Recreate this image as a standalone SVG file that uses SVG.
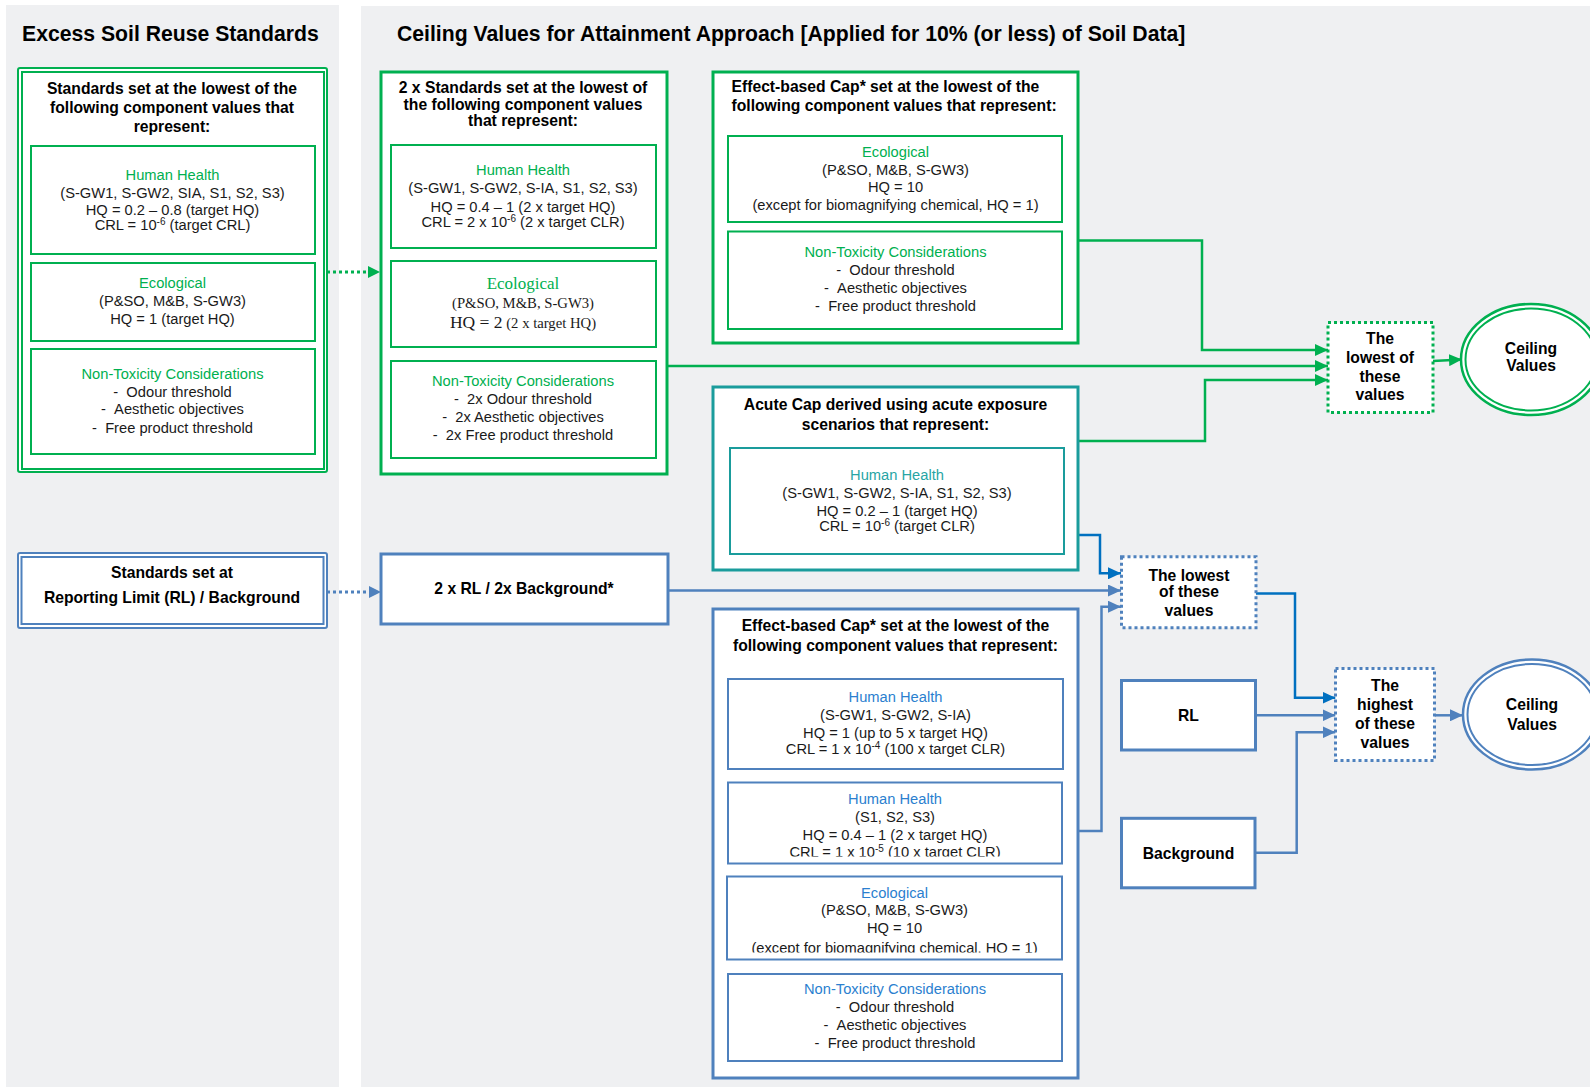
<svg xmlns="http://www.w3.org/2000/svg" width="1590" height="1087" viewBox="0 0 1590 1087">
<style>
.panel{fill:#eff0f2}
text{font-family:"Liberation Sans",Arial,sans-serif;font-size:14.7px;fill:#1a1a1a;text-anchor:middle}
.b{font-weight:bold;font-size:15.7px;fill:#000}
.title{font-weight:bold;font-size:21.2px;text-anchor:start;fill:#000}
.st{text-anchor:start}
.g{fill:#00b050}
.bl{fill:#2b7fcf}
.tl{fill:#27a5a5}
.serif{font-family:"Liberation Serif","Times New Roman",serif}
.big{font-size:17px}
.gbox{fill:#fff;stroke:#00b050;stroke-width:3}
.gsub{fill:#fff;stroke:#00b050;stroke-width:2}
.gthin{fill:#fff;stroke:#00b050;stroke-width:2}
.bbox{fill:#fff;stroke:#4f81bd;stroke-width:3}
.bsub{fill:#fff;stroke:#4f81bd;stroke-width:2}
.tbox{fill:#fff;stroke:#1a9c9c;stroke-width:3}
.tsub{fill:#fff;stroke:#1a9c9c;stroke-width:2}
.gdot{fill:#fff;stroke:#00b050;stroke-width:3;stroke-dasharray:3 3}
.bdot{fill:#fff;stroke:#4f81bd;stroke-width:3;stroke-dasharray:3 3}
.cg{fill:none;stroke:#00b050;stroke-width:2.5}
.cb{fill:none;stroke:#4f81bd;stroke-width:2.5}
.cd{fill:none;stroke:#0070c0;stroke-width:2.5}
.dotg{fill:none;stroke:#00b050;stroke-width:3;stroke-dasharray:3 3}
.dotb{fill:none;stroke:#4f81bd;stroke-width:3;stroke-dasharray:3 3}
</style>
<defs>
<marker id="ag" markerUnits="userSpaceOnUse" markerWidth="14" markerHeight="12" refX="13" refY="6" orient="auto"><path d="M0,0 L13,6 L0,12 z" fill="#00b050"/></marker>
<marker id="ab" markerUnits="userSpaceOnUse" markerWidth="14" markerHeight="12" refX="13" refY="6" orient="auto"><path d="M0,0 L13,6 L0,12 z" fill="#4f81bd"/></marker>
<marker id="ad" markerUnits="userSpaceOnUse" markerWidth="14" markerHeight="12" refX="13" refY="6" orient="auto"><path d="M0,0 L13,6 L0,12 z" fill="#0070c0"/></marker>
<clipPath id="clipHH2"><rect x="728" y="782" width="334" height="74.5"/></clipPath>
<clipPath id="clipEco5"><rect x="727" y="876" width="335" height="76.5"/></clipPath>
</defs>

<g id="panels">
<rect class="panel" x="6" y="5" width="333" height="1082"/>
<rect class="panel" x="361" y="6" width="1229" height="1081"/>
<text class="title" x="22" y="41">Excess Soil Reuse Standards</text>
<text class="title" x="397" y="41">Ceiling Values for Attainment Approach [Applied for 10% (or less) of Soil Data]</text>
</g>

<g id="connectors">
<path class="dotg" d="M327,272 H368"/>
<path d="M368,266 L380,272 L368,278 z" fill="#00b050"/>
<path class="dotb" d="M327,592 H369"/>
<path d="M369,586 L381,592 L369,598 z" fill="#4f81bd"/>
<path class="cg" d="M1078,240.5 H1202 V350 H1328" marker-end="url(#ag)"/>
<path class="cg" d="M667,366 H1328" marker-end="url(#ag)"/>
<path class="cg" d="M1078,441 H1205 V380 H1328" marker-end="url(#ag)"/>
<path class="cg" d="M1433,361 L1462,359.5" marker-end="url(#ag)"/>
<path class="cd" d="M1078,535 H1100 V573.3 H1121" marker-end="url(#ad)"/>
<path class="cb" d="M668,590.5 H1121" marker-end="url(#ab)"/>
<path class="cb" d="M1078,831 H1101.5 V606.7 H1121" marker-end="url(#ab)"/>
<path class="cd" d="M1256,593.5 H1295 V697.7 H1335.5" marker-end="url(#ad)"/>
<path class="cb" d="M1255.5,715.3 H1335.5" marker-end="url(#ab)"/>
<path class="cb" d="M1255,852.7 H1296.7 V732.3 H1335.5" marker-end="url(#ab)"/>
<path class="cb" d="M1434.5,715.3 H1463" marker-end="url(#ab)"/>
</g>

<g id="excess-soil-standards">
<rect class="gthin" x="18" y="68" width="309" height="404" rx="2"/>
<rect class="gthin" x="22" y="72" width="302" height="397"/>
<text class="b" x="172" y="94">Standards set at the lowest of the</text>
<text class="b" x="172" y="113">following component values that</text>
<text class="b" x="172" y="132">represent:</text>
<rect class="gsub" x="31" y="146" width="284" height="108"/>
<text class="g" x="172.5" y="180">Human Health</text>
<text x="172.5" y="198">(S-GW1, S-GW2, SIA, S1, S2, S3)</text>
<text x="172.5" y="215">HQ = 0.2 – 0.8 (target HQ)</text>
<text x="172.5" y="230">CRL = 10<tspan dy="-5" font-size="10">-6</tspan><tspan dy="5"> (target CRL)</tspan></text>
<rect class="gsub" x="31" y="263" width="284" height="78"/>
<text class="g" x="172.5" y="288">Ecological</text>
<text x="172.5" y="306">(P&amp;SO, M&amp;B, S-GW3)</text>
<text x="172.5" y="324">HQ = 1 (target HQ)</text>
<rect class="gsub" x="31" y="349" width="284" height="105"/>
<text class="g" x="172.5" y="379">Non-Toxicity Considerations</text>
<text x="172.5" y="397">-&#160;&#160;Odour threshold</text>
<text x="172.5" y="414">-&#160;&#160;Aesthetic objectives</text>
<text x="172.5" y="433">-&#160;&#160;Free product threshold</text>
</g>

<g id="rl-standards">
<rect class="bsub" x="18" y="553" width="309" height="75" rx="2"/>
<rect class="bsub" x="21.5" y="557" width="302" height="67"/>
<text class="b" x="172" y="578">Standards set at</text>
<text class="b" x="172" y="603">Reporting Limit (RL) / Background</text>
</g>

<g id="two-x-standards">
<rect class="gbox" x="381" y="72" width="286" height="402"/>
<text class="b" x="523" y="93">2 x Standards set at the lowest of</text>
<text class="b" x="523" y="109.5">the following component values</text>
<text class="b" x="523" y="126">that represent:</text>
<rect class="gsub" x="391" y="145" width="265" height="103"/>
<text class="g" x="523" y="175">Human Health</text>
<text x="523" y="193">(S-GW1, S-GW2, S-IA, S1, S2, S3)</text>
<text x="523" y="211.5">HQ = 0.4 – 1 (2 x target HQ)</text>
<text x="523" y="226.5">CRL = 2 x 10<tspan dy="-5" font-size="10">-6</tspan><tspan dy="5"> (2 x target CLR)</tspan></text>
<rect class="gsub" x="391" y="261" width="265" height="86"/>
<text class="g serif big" x="523" y="289">Ecological</text>
<text class="serif" x="523" y="308">(P&amp;SO, M&amp;B, S-GW3)</text>
<text class="serif" x="523" y="327.5"><tspan font-size="17.5">HQ = 2</tspan> (2 x target HQ)</text>
<rect class="gsub" x="391" y="361" width="265" height="97"/>
<text class="g" x="523" y="385.5">Non-Toxicity Considerations</text>
<text x="523" y="403.5">-&#160;&#160;2x Odour threshold</text>
<text x="523" y="421.5">-&#160;&#160;2x Aesthetic objectives</text>
<text x="523" y="440">-&#160;&#160;2x Free product threshold</text>
</g>

<g id="effect-cap-green">
<rect class="gbox" x="713" y="72" width="365" height="271"/>
<text class="b st" x="731.5" y="92">Effect-based Cap* set at the lowest of the</text>
<text class="b st" x="731.5" y="110.5">following component values that represent:</text>
<rect class="gsub" x="728" y="136" width="334" height="86"/>
<text class="g" x="895.5" y="156.5">Ecological</text>
<text x="895.5" y="174.5">(P&amp;SO, M&amp;B, S-GW3)</text>
<text x="895.5" y="191.5">HQ = 10</text>
<text x="895.5" y="210">(except for biomagnifying chemical, HQ = 1)</text>
<rect class="gsub" x="728" y="231.5" width="334" height="97.5"/>
<text class="g" x="895.5" y="256.5">Non-Toxicity Considerations</text>
<text x="895.5" y="274.5">-&#160;&#160;Odour threshold</text>
<text x="895.5" y="292.5">-&#160;&#160;Aesthetic objectives</text>
<text x="895.5" y="310.5">-&#160;&#160;Free product threshold</text>
</g>

<g id="acute-cap">
<rect class="tbox" x="713" y="387" width="365" height="183"/>
<text class="b" x="895.5" y="409.5">Acute Cap derived using acute exposure</text>
<text class="b" x="895.5" y="429.5">scenarios that represent:</text>
<rect class="tsub" x="730" y="448" width="334" height="106"/>
<text class="tl" x="897" y="480">Human Health</text>
<text x="897" y="498">(S-GW1, S-GW2, S-IA, S1, S2, S3)</text>
<text x="897" y="516">HQ = 0.2 – 1 (target HQ)</text>
<text x="897" y="530.5">CRL = 10<tspan dy="-5" font-size="10">-6</tspan><tspan dy="5"> (target CLR)</tspan></text>
</g>

<g id="two-x-rl">
<rect class="bbox" x="381" y="554" width="287" height="70"/>
<text class="b" x="524" y="594">2 x RL / 2x Background*</text>
</g>

<g id="effect-cap-blue">
<rect class="bbox" x="713" y="609" width="365" height="469"/>
<text class="b" x="895.5" y="631">Effect-based Cap* set at the lowest of the</text>
<text class="b" x="895.5" y="651">following component values that represent:</text>
<rect class="bsub" x="728" y="679" width="335" height="90"/>
<text class="bl" x="895.5" y="702">Human Health</text>
<text x="895.5" y="720">(S-GW1, S-GW2, S-IA)</text>
<text x="895.5" y="738">HQ = 1 (up to 5 x target HQ)</text>
<text x="895.5" y="754">CRL = 1 x 10<tspan dy="-5" font-size="10">-4</tspan><tspan dy="5"> (100 x target CLR)</tspan></text>
<rect class="bsub" x="728" y="782.5" width="334" height="81"/>
<text class="bl" x="895" y="803.5">Human Health</text>
<text x="895" y="821.5">(S1, S2, S3)</text>
<text x="895" y="839.5">HQ = 0.4 – 1 (2 x target HQ)</text>
<text x="895" y="857" clip-path="url(#clipHH2)">CRL = 1 x 10<tspan dy="-5" font-size="10">-5</tspan><tspan dy="5"> (10 x target CLR)</tspan></text>
<rect class="bsub" x="727" y="876.5" width="335" height="83"/>
<text class="bl" x="894.5" y="897.5">Ecological</text>
<text x="894.5" y="915">(P&amp;SO, M&amp;B, S-GW3)</text>
<text x="894.5" y="932.5">HQ = 10</text>
<text x="894.5" y="952.5" clip-path="url(#clipEco5)">(except for biomagnifying chemical, HQ = 1)</text>
<rect class="bsub" x="728" y="974" width="334" height="87"/>
<text class="bl" x="895" y="993.5">Non-Toxicity Considerations</text>
<text x="895" y="1011.5">-&#160;&#160;Odour threshold</text>
<text x="895" y="1030">-&#160;&#160;Aesthetic objectives</text>
<text x="895" y="1048">-&#160;&#160;Free product threshold</text>
</g>

<g id="lowest-green">
<rect class="gdot" x="1328" y="322.5" width="105" height="90"/>
<text class="b" x="1380" y="343.5">The</text>
<text class="b" x="1380" y="362.5">lowest of</text>
<text class="b" x="1380" y="381.5">these</text>
<text class="b" x="1380" y="400">values</text>
</g>

<g id="ceiling-green">
<ellipse cx="1531" cy="359.5" rx="70" ry="55.5" fill="#fff" stroke="#00b050" stroke-width="2.5"/>
<ellipse cx="1531" cy="359.5" rx="65.5" ry="51" fill="none" stroke="#00b050" stroke-width="2"/>
<text class="b" x="1531" y="354">Ceiling</text>
<text class="b" x="1531" y="371">Values</text>
</g>

<g id="lowest-blue">
<rect class="bdot" x="1121.5" y="556.7" width="134.5" height="71"/>
<text class="b" x="1189" y="580.5">The lowest</text>
<text class="b" x="1189" y="597">of these</text>
<text class="b" x="1189" y="615.5">values</text>
</g>

<g id="rl">
<rect class="bbox" x="1121.5" y="680.5" width="134" height="69.5"/>
<text class="b" x="1188.5" y="720.5">RL</text>
</g>

<g id="background">
<rect class="bbox" x="1121.5" y="818.3" width="133.5" height="69.5"/>
<text class="b" x="1188.5" y="858.5">Background</text>
</g>

<g id="highest-blue">
<rect class="bdot" x="1335.5" y="668.5" width="99" height="92"/>
<text class="b" x="1385" y="690.5">The</text>
<text class="b" x="1385" y="710">highest</text>
<text class="b" x="1385" y="729">of these</text>
<text class="b" x="1385" y="747.5">values</text>
</g>

<g id="ceiling-blue">
<ellipse cx="1532" cy="714.5" rx="69" ry="55" fill="#fff" stroke="#4f81bd" stroke-width="2.5"/>
<ellipse cx="1532" cy="714.5" rx="64.5" ry="50.5" fill="none" stroke="#4f81bd" stroke-width="2"/>
<text class="b" x="1532" y="710">Ceiling</text>
<text class="b" x="1532" y="730">Values</text>
</g>
</svg>
